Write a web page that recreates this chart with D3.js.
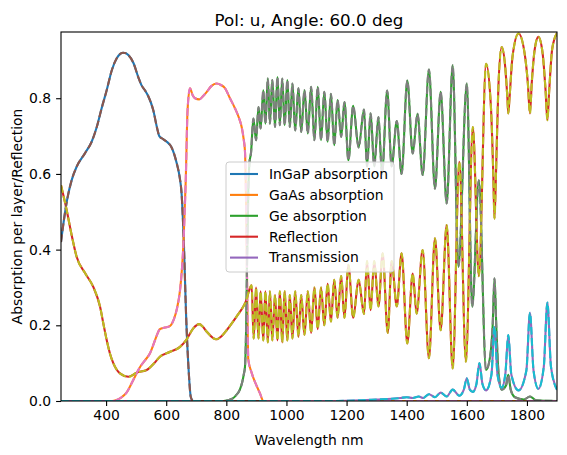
<!DOCTYPE html>
<html>
<head>
<meta charset="utf-8">
<script src="https://cdn.jsdelivr.net/npm/d3@7"></script>
<style>
  body { margin: 0; background: #fff; }
  text { font-family: "DejaVu Sans", sans-serif; fill: #000; }
</style>
</head>
<body>
<div id="chart"></div>
<script>
// values, [wavelength nm, fraction]
const ingapAbs = [[250,0.42],[260,0.48],[270,0.53],[286,0.585],[302,0.619],[330,0.655],[352,0.685],[369,0.724],[385,0.773],[402,0.821],[419,0.874],[435,0.905],[447,0.917],[457,0.92],[466,0.919],[474,0.914],[491,0.893],[507,0.856],[518,0.834],[530,0.82],[540,0.806],[557,0.768],[570,0.72],[577,0.70],[590,0.692],[602,0.685],[618,0.67],[635,0.628],[645,0.59],[651,0.55],[659,0.41],[666,0.23],[674,0.09],[682,0.01],[690,0],[1900,0]];

const gaasAbs = [[250,0],[420,0],[435,0.003],[450,0.009],[468,0.022],[490,0.055],[513,0.09],[530,0.108],[546,0.126],[558,0.15],[568,0.172],[579,0.19],[595,0.194],[612,0.198],[625,0.215],[636,0.245],[646,0.293],[652,0.345],[657,0.41],[665,0.583],[671,0.768],[679,0.826],[688,0.808],[696,0.8],[710,0.797],[722,0.805],[735,0.817],[750,0.832],[768,0.839],[782,0.835],[796,0.826],[812,0.80],[829,0.773],[842,0.748],[851,0.724],[858,0.69],[862,0.66],[867,0.45],[870,0.25],[873,0.11],[884,0.075],[898,0.045],[912,0.02],[923,0],[1900,0]];

const geAbs = [[250,0],[790,0],[805,0.002],[820,0.006],[832,0.015],[845,0.03],[853,0.05],[858,0.07],[862,0.09],[866,0.2],[869,0.37],[873,0.55],[877,0.63],[882,0.655],[890,0.746],[899,0.689],[907,0.777],[914,0.72],[923,0.821],[930,0.733],[938,0.852],[945,0.733],[953,0.848],[962,0.724],[970,0.856],[978,0.729],[986,0.852],[994,0.729],[1003,0.848],[1011,0.724],[1020,0.839],[1029,0.715],[1040,0.826],[1049,0.711],[1060,0.821],[1071,0.707],[1082,0.83],[1093,0.689],[1104,0.83],[1115,0.689],[1126,0.817],[1137,0.685],[1148,0.812],[1159,0.676],[1170,0.795],[1182,0.698],[1193,0.79],[1206,0.636],[1222,0.78],[1240,0.67],[1258,0.77],[1268,0.62],[1280,0.76],[1292,0.62],[1306,0.75],[1318,0.6],[1335,0.82],[1350,0.62],[1367,0.74],[1383,0.6],[1402,0.847],[1420,0.654],[1436,0.759],[1453,0.597],[1474,0.876],[1494,0.561],[1513,0.817],[1533,0.522],[1553,0.887],[1572,0.355],[1600,0.839],[1618,0.249],[1640,0.583],[1664,0.082],[1678,0.12],[1686,0.2],[1692,0.324],[1698,0.2],[1705,0.08],[1716,0.03],[1730,0.04],[1738,0.069],[1746,0.03],[1760,0.01],[1790,0.004],[1810,0.012],[1830,0.002],[1900,0]];

const reflection = [[250,0.57],[269,0.504],[285,0.44],[302,0.381],[330,0.338],[357,0.302],[380,0.249],[392,0.2],[402,0.161],[413,0.125],[424,0.10],[446,0.073],[474,0.064],[502,0.075],[535,0.082],[560,0.1],[579,0.117],[613,0.13],[646,0.143],[668,0.163],[690,0.192],[710,0.203],[722,0.196],[735,0.183],[766,0.163],[785,0.172],[801,0.187],[834,0.223],[856,0.249],[866,0.265],[875,0.29],[884,0.306],[891,0.165],[899,0.30],[907,0.165],[914,0.29],[923,0.16],[930,0.29],[938,0.155],[945,0.29],[953,0.16],[962,0.28],[970,0.16],[978,0.29],[986,0.155],[994,0.29],[1003,0.16],[1011,0.28],[1020,0.165],[1029,0.29],[1040,0.17],[1049,0.28],[1060,0.175],[1071,0.29],[1082,0.18],[1093,0.3],[1104,0.19],[1115,0.3],[1126,0.2],[1137,0.31],[1148,0.21],[1159,0.32],[1170,0.22],[1182,0.33],[1193,0.22],[1206,0.36],[1222,0.22],[1240,0.32],[1258,0.23],[1268,0.37],[1280,0.24],[1292,0.37],[1306,0.25],[1320,0.39],[1337,0.18],[1350,0.37],[1367,0.25],[1383,0.39],[1402,0.152],[1420,0.337],[1433,0.231],[1453,0.399],[1474,0.113],[1494,0.43],[1513,0.187],[1533,0.465],[1553,0.086],[1575,0.632],[1597,0.104],[1620,0.724],[1640,0.33],[1664,0.891],[1680,0.78],[1688,0.6],[1692,0.482],[1697,0.6],[1705,0.83],[1716,0.935],[1728,0.88],[1735,0.80],[1738,0.76],[1742,0.80],[1752,0.91],[1772,0.971],[1792,0.92],[1803,0.84],[1810,0.76],[1816,0.84],[1826,0.93],[1838,0.962],[1852,0.92],[1862,0.82],[1868,0.742],[1874,0.82],[1884,0.93],[1900,0.972]];

const transmission = [[250,0],[1150,0],[1250,0.002],[1300,0.004],[1350,0.006],[1380,0.008],[1400,0.01],[1420,0.008],[1440,0.012],[1455,0.008],[1474,0.018],[1494,0.01],[1513,0.022],[1533,0.012],[1553,0.03],[1575,0.014],[1590,0.03],[1600,0.06],[1610,0.03],[1620,0.024],[1632,0.045],[1642,0.1],[1652,0.045],[1664,0.028],[1682,0.07],[1692,0.196],[1702,0.07],[1716,0.035],[1728,0.07],[1738,0.174],[1748,0.07],[1772,0.028],[1798,0.08],[1810,0.233],[1822,0.08],[1838,0.032],[1856,0.09],[1868,0.26],[1880,0.09],[1900,0.03]];

const labels = ["InGaP absorption", "GaAs absorption", "Ge absorption", "Reflection", "Transmission"];
const xTicks = [400, 600, 800, 1000, 1200, 1400, 1600, 1800];
const yTicks = [0, 0.2, 0.4, 0.6, 0.8];

const series = [ingapAbs, gaasAbs, geAbs, reflection, transmission];
const solidColors = ["#1f77b4", "#ff7f0e", "#2ca02c", "#d62728", "#9467bd"];
const dashColors = ["#8c564b", "#e377c2", "#7f7f7f", "#bcbd22", "#17becf"];

const width = 567;
const height = 455;
const axLeft = 61, axRight = 557, axTop = 32, axBottom = 401;

const svg = d3.select("#chart")
    .append("svg")
    .attr("width", width)
    .attr("height", height);

const x = d3.scaleLinear().domain([250, 1900]).range([axLeft, axRight]);
const y = d3.scaleLinear().domain([0, 0.975]).range([axBottom, axTop]);

svg.append("clipPath")
    .attr("id", "clip")
    .append("rect")
    .attr("x", axLeft).attr("y", axTop)
    .attr("width", axRight - axLeft).attr("height", axBottom - axTop);

const line = d3.line()
    .x(d => x(d[0]))
    .y(d => y(d[1]))
    .curve(d3.curveMonotoneX);

const plot = svg.append("g").attr("clip-path", "url(#clip)");

// solid labelled lines first, dashed copies on top
series.forEach((s, i) => {
    plot.append("path")
        .datum(s)
        .attr("d", line)
        .attr("fill", "none")
        .attr("stroke", solidColors[i])
        .attr("stroke-width", 2.1)
        .attr("stroke-linejoin", "round");
});
series.forEach((s, i) => {
    plot.append("path")
        .datum(s)
        .attr("d", line)
        .attr("fill", "none")
        .attr("stroke", dashColors[i])
        .attr("stroke-width", 2.1)
        .attr("stroke-dasharray", "7.7,3.3");
});

// axes
const xAxis = svg.append("g")
    .attr("transform", `translate(0,${axBottom})`)
    .call(d3.axisBottom(x).tickValues(xTicks).tickSize(4.9).tickPadding(4.2).tickFormat(d3.format("d")));
const yAxis = svg.append("g")
    .attr("transform", `translate(${axLeft},0)`)
    .call(d3.axisLeft(y).tickValues(yTicks).tickSize(4.9).tickPadding(4.9).tickFormat(d3.format(".1f")));

[xAxis, yAxis].forEach(a => {
    a.select(".domain").remove();
    a.selectAll(".tick line").attr("stroke", "#000").attr("stroke-width", 1.1);
    a.selectAll(".tick text")
        .style("font-family", "DejaVu Sans")
        .style("font-size", "13.9px")
        .attr("fill", "#000");
});

svg.append("rect")
    .attr("x", axLeft).attr("y", axTop)
    .attr("width", axRight - axLeft).attr("height", axBottom - axTop)
    .attr("fill", "none")
    .attr("stroke", "#000")
    .attr("stroke-width", 1.1);

svg.append("text")
    .attr("x", (axLeft + axRight) / 2)
    .attr("y", 20)
    .attr("dy", "0.35em")
    .attr("text-anchor", "middle")
    .style("font-size", "16.7px")
    .text("Pol: u, Angle: 60.0 deg");

svg.append("text")
    .attr("x", (axLeft + axRight) / 2)
    .attr("y", 440)
    .attr("dy", "0.35em")
    .attr("text-anchor", "middle")
    .style("font-size", "13.9px")
    .text("Wavelength nm");

svg.append("text")
    .attr("transform", `translate(17,${(axTop + axBottom) / 2}) rotate(-90)`)
    .attr("dy", "0.35em")
    .attr("text-anchor", "middle")
    .style("font-size", "13.9px")
    .text("Absorption per layer/Reflection");

// legend
const legend = svg.append("g").attr("transform", "translate(226,162)");
legend.append("rect")
    .attr("width", 168).attr("height", 110)
    .attr("rx", 3).attr("ry", 3)
    .attr("fill", "#fff").attr("fill-opacity", 0.8)
    .attr("stroke", "#cccccc").attr("stroke-width", 1);

labels.forEach((lab, i) => {
    const ly = 12 + i * 20.9;
    legend.append("line")
        .attr("x1", 4).attr("x2", 32)
        .attr("y1", ly).attr("y2", ly)
        .attr("stroke", solidColors[i])
        .attr("stroke-width", 2.1);
    legend.append("text")
        .attr("x", 43).attr("y", ly)
        .attr("dy", "0.35em")
        .style("font-size", "13.9px")
        .text(lab);
});
</script>
</body>
</html>
